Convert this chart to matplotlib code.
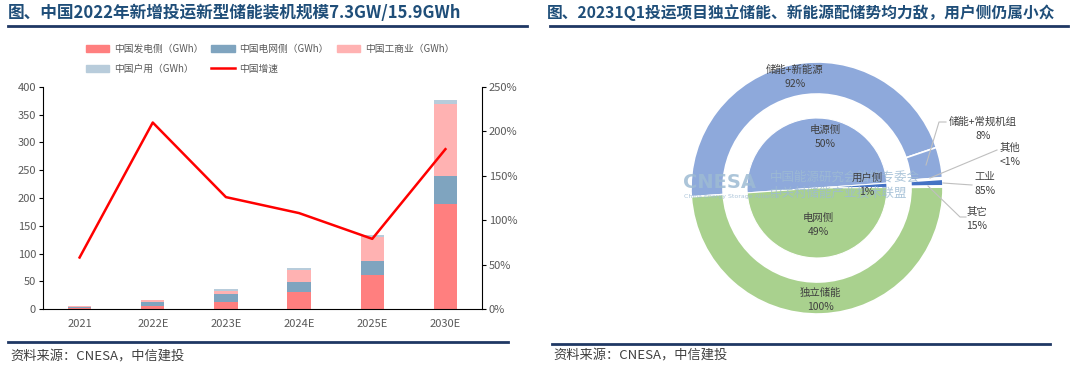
import matplotlib.pyplot as plt
from matplotlib.lines import Line2D
from matplotlib.patches import Patch
from matplotlib.ticker import FuncFormatter
import numpy as np

plt.rcParams['font.family'] = ['Noto Sans CJK SC', 'DejaVu Sans']

# ---- left chart data (GWh) ----
years = ['2021', '2022E', '2023E', '2024E', '2025E', '2030E']
gen_side = [1.5, 5, 12.5, 31, 61, 189]
grid_side = [2.5, 8.5, 14, 18, 26, 50]
ci_side = [0.8, 2, 6, 21, 42, 130]
home_side = [0.5, 1.5, 3, 4.5, 4, 8]
growth_pct = [58, 210, 126, 108, 79, 180]

series_names = ['中国发电侧（GWh）', '中国电网侧（GWh）', '中国工商业（GWh）', '中国户用（GWh）']
line_name = '中国增速'

# ---- right chart data (%) ----
inner_labels = ['电源侧', '用户侧', '电网侧']
inner_shares = [50, 1, 49]
outer_labels = ['储能+新能源', '储能+常规机组', '其他', '工业', '其它', '独立储能']
outer_shares = [45.9, 3.9, 0.2, 0.85, 0.15, 49]
outer_pct = ['92%', '8%', '<1%', '85%', '15%', '100%']

W, H = 1080, 365
TITLE_C = '#1F4E79'
RULE_C = '#1F3864'
TXT_C = '#595959'
WM_C = '#9EBBD3'


def rect(x0, y0, x1, y1):
    return [x0 / W, 1 - y1 / H, (x1 - x0) / W, (y1 - y0) / H]


def fx(px):
    return px / W


def fy(py):
    return 1 - py / H


fig = plt.figure(figsize=(W / 100, H / 100), dpi=100)

# titles and rules
fig.text(fx(8), fy(13), '图、中国2022年新增投运新型储能装机规模7.3GW/15.9GWh',
         fontsize=12, fontweight='bold', color=TITLE_C, va='center')
fig.text(fx(547), fy(13), '图、20231Q1投运项目独立储能、新能源配储势均力敌，用户侧仍属小众',
         fontsize=11.3, fontweight='bold', color=TITLE_C, va='center')
for x0, x1, y in [(8, 527, 26), (550, 1068, 26), (8, 508, 342), (552, 1050, 344)]:
    fig.add_artist(Line2D([fx(x0), fx(x1)], [fy(y), fy(y)], color=RULE_C, lw=2))
fig.text(fx(10), fy(357), '资料来源：CNESA，中信建投', fontsize=9.5, style='italic',
         color='#404040', va='center')
fig.text(fx(553), fy(356), '资料来源：CNESA，中信建投', fontsize=9.5, style='italic',
         color='#404040', va='center')

# ---- stacked bars + growth line ----
ax = fig.add_axes(rect(43, 87, 482, 309))
x = np.arange(len(years))
colors = ['#FF7F7F', '#7FA4BF', '#FFB2B2', '#B8CCDB']
bottom = np.zeros(len(years))
for vals, c in zip([gen_side, grid_side, ci_side, home_side], colors):
    ax.bar(x, vals, width=0.32, bottom=bottom, color=c, linewidth=0)
    bottom += np.array(vals)

ax.set_xlim(-0.5, len(years) - 0.5)
ax.set_ylim(0, 400)
ax.set_yticks(range(0, 401, 50))
ax.set_xticks(x)
ax.set_xticklabels(years)
for s in ['top', 'right']:
    ax.spines[s].set_visible(False)
ax.tick_params(axis='x', length=0, pad=7, labelsize=8, labelcolor=TXT_C)
ax.tick_params(axis='y', length=3, pad=2, labelsize=8, labelcolor=TXT_C)

ax2 = ax.twinx()
ax2.plot(x, growth_pct, color='#FF0000', lw=1.8)
ax2.set_ylim(0, 250)
ax2.set_yticks(range(0, 251, 50))
ax2.yaxis.set_major_formatter(FuncFormatter(lambda v, p: '%d%%' % v))
for s in ['top', 'left', 'bottom']:
    ax2.spines[s].set_visible(False)
ax2.tick_params(axis='y', length=3, pad=2, labelsize=8, labelcolor=TXT_C)

handles = [Patch(color=c) for c in colors] + [Line2D([], [], color='#FF0000', lw=1.8)]
labels = series_names + [line_name]
order = [0, 3, 1, 4, 2]
fig.legend([handles[i] for i in order], [labels[i] for i in order],
           loc='upper left', bbox_to_anchor=(fx(86), fy(44)), ncol=3, frameon=False,
           fontsize=7, labelcolor=TXT_C, borderpad=0, borderaxespad=0,
           handlelength=2.4, handleheight=0.7, handletextpad=0.5,
           columnspacing=0.8, labelspacing=1.0)

# ---- nested donut ----
CX, CY, R = 817, 188, 126
X0, X1, Y0, Y1 = 680, 1076, 45, 335
pax = fig.add_axes(rect(X0, Y0, X1, Y1))


def d(px, py):
    return (px - CX) / R, (CY - py) / R


blue = '#8EA9DB'
green = '#A9D18E'
dark = '#4472C4'
pax.pie(inner_shares, radius=70 / R, startangle=184, counterclock=False,
        colors=[blue, dark, green], wedgeprops=dict(edgecolor='white', linewidth=0.8))
pax.pie(outer_shares, radius=1.0, startangle=184, counterclock=False,
        colors=[blue, blue, blue, dark, green, green],
        wedgeprops=dict(width=32 / R, edgecolor='white', linewidth=1.2))
pax.set_aspect('auto')
pax.set_xlim((X0 - CX) / R, (X1 - CX) / R)
pax.set_ylim((CY - Y1) / R, (CY - Y0) / R)
pax.axis('off')

# watermark
wm = dict(color=WM_C, alpha=0.85, va='center', ha='left', zorder=4)
pax.text(*d(683, 183), 'CNESA', fontsize=14, fontweight='bold', family='DejaVu Sans', **wm)
pax.text(*d(684, 197), 'China Energy Storage Alliance', fontsize=4.5,
         family='DejaVu Sans', **wm)
pax.text(*d(770, 177), '中国能源研究会储能专委会', fontsize=9, **wm)
pax.text(*d(770, 193), '中关村储能产业技术联盟', fontsize=9, **wm)

lab_kw = dict(fontsize=7.5, color='#404040', ha='center', va='center',
              linespacing=1.5, zorder=5)
pax.text(*d(795, 77), outer_labels[0] + '\n' + outer_pct[0], **lab_kw)
pax.text(*d(825, 137), inner_labels[0] + '\n%d%%' % inner_shares[0], **lab_kw)
pax.text(*d(867, 185), inner_labels[1] + '\n%d%%' % inner_shares[1], **lab_kw)
pax.text(*d(818, 225), inner_labels[2] + '\n%d%%' % inner_shares[2], **lab_kw)
pax.text(*d(820, 300), outer_labels[5] + '\n' + outer_pct[5], **lab_kw)
pax.text(*d(983, 129), outer_labels[1] + '\n' + outer_pct[1], **lab_kw)
pax.text(*d(1010, 155), outer_labels[2] + '\n' + outer_pct[2], **lab_kw)
pax.text(*d(985, 184), outer_labels[3] + '\n' + outer_pct[3], **lab_kw)
pax.text(*d(977, 219), outer_labels[4] + '\n' + outer_pct[4], **lab_kw)

leaders = [
    [(946, 122), (939, 122), (926, 165)],
    [(997, 150), (930, 178)],
    [(943, 183), (972, 185)],
    [(928, 186), (960, 217), (966, 217)],
]
for pts in leaders:
    xs, ys = zip(*[d(*p) for p in pts])
    pax.plot(xs, ys, color='#BFBFBF', lw=0.8, clip_on=False)

fig.savefig('out.png', dpi=100)
